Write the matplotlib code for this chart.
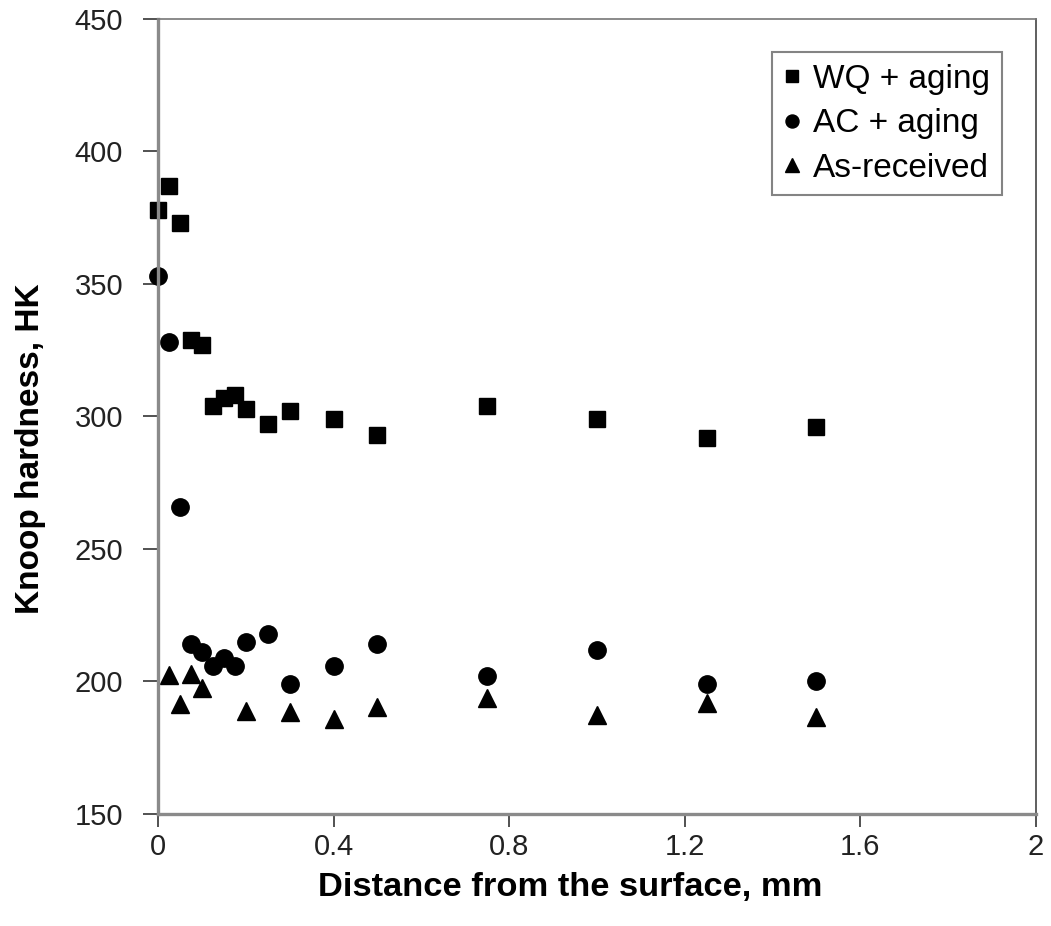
import matplotlib
matplotlib.use("Agg")
from matplotlib import pyplot as plt

plt.rcParams['font.family'] = ['Liberation Sans', 'DejaVu Sans']

# distance from surface (mm)
x_wq = [0, 0.025, 0.05, 0.075, 0.1, 0.125, 0.15, 0.175, 0.2, 0.25, 0.3, 0.4, 0.5, 0.75, 1.0, 1.25, 1.5]
wq_aging = [378, 387, 373, 329, 327, 304, 307, 308, 303, 297, 302, 299, 293, 304, 299, 292, 296]

x_ac = [0, 0.025, 0.05, 0.075, 0.1, 0.125, 0.15, 0.175, 0.2, 0.25, 0.3, 0.4, 0.5, 0.75, 1.0, 1.25, 1.5]
ac_aging = [353, 328, 266, 214, 211, 206, 209, 206, 215, 218, 199, 206, 214, 202, 212, 199, 200]

x_as = [0.025, 0.05, 0.075, 0.1, 0.2, 0.3, 0.4, 0.5, 0.75, 1.0, 1.25, 1.5]
as_received = [202.5, 191.5, 203, 197.5, 189, 188.5, 185.7, 190.5, 193.7, 187.2, 192, 186.5]

x_ticks = [0, 0.4, 0.8, 1.2, 1.6, 2]
x_ticklabels = ['0', '0.4', '0.8', '1.2', '1.6', '2']
y_ticks = [150, 200, 250, 300, 350, 400, 450]

fig = plt.figure(figsize=(10.51, 9.26), dpi=100)
ax = fig.add_axes([0.1503, 0.1210, 0.8354, 0.8585])

ax.plot(x_wq, wq_aging, 's', color='black', ms=12, label='WQ + aging', clip_on=False)
ax.plot(x_ac, ac_aging, 'o', color='black', ms=12.5, label='AC + aging', clip_on=False)
ax.plot(x_as, as_received, '^', color='black', ms=12.5, label='As-received', clip_on=False)

ax.set_xlim(0, 2)
ax.set_ylim(150, 450)
ax.set_xticks(x_ticks)
ax.set_xticklabels(x_ticklabels)
ax.set_yticks(y_ticks)

ax.spines['left'].set_color('#8a8a8a')
ax.spines['left'].set_linewidth(2.4)
ax.spines['bottom'].set_color('#8a8a8a')
ax.spines['bottom'].set_linewidth(2.4)
ax.spines['top'].set_color('#777777')
ax.spines['top'].set_linewidth(1.2)
ax.spines['right'].set_color('#444444')
ax.spines['right'].set_linewidth(1.2)

ax.tick_params(axis='x', direction='out', length=9, width=1.2, color='#333333',
               labelsize=21, labelcolor='#222222', pad=5)
ax.tick_params(axis='y', direction='out', length=11, width=1.2, color='#333333',
               labelsize=21, labelcolor='#222222', pad=14)

ax.set_xlabel('Distance from the surface, mm', fontsize=24.8, fontweight='bold')
ax.set_ylabel('Knoop hardness, HK', fontsize=24, fontweight='bold')
ax.xaxis.set_label_coords(0.469, -0.073)
ax.yaxis.set_label_coords(-0.127, 0.46)

leg = ax.legend(loc='upper right', bbox_to_anchor=(0.961, 0.958), fontsize=24,
                frameon=True, fancybox=False, edgecolor='#666666',
                handlelength=0.5, handletextpad=0.38, borderpad=0.35,
                labelspacing=0.4, markerscale=0.75, borderaxespad=0)
leg.get_frame().set_linewidth(1.5)

plt.savefig('out.png', dpi=100)
